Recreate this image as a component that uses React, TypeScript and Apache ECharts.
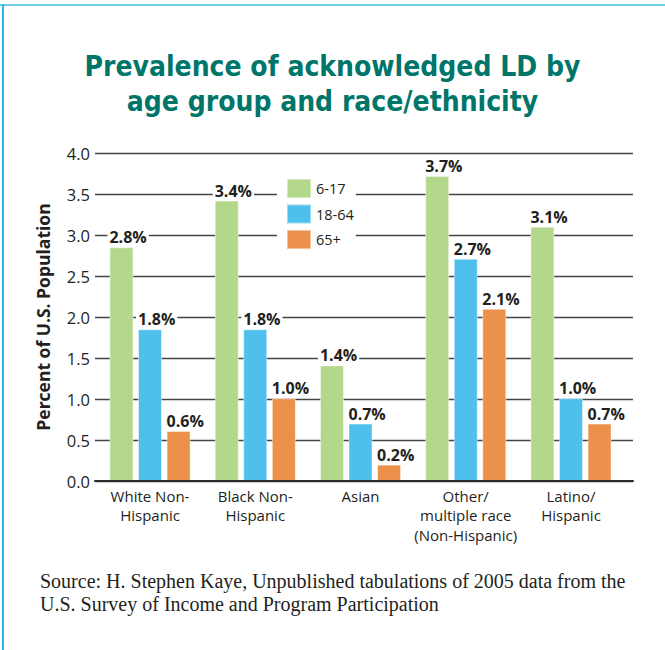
import React, { useEffect, useRef } from "react";
import * as echarts from "echarts";

const categories = [
  "White Non-\nHispanic",
  "Black Non-\nHispanic",
  "Asian",
  "Other/\nmultiple race\n(Non-Hispanic)",
  "Latino/\nHispanic",
];
const seriesNames = ["6-17", "18-64", "65+"];
const age6to17 = [2.85, 3.42, 1.41, 3.72, 3.1];
const age18to64 = [1.85, 1.85, 0.7, 2.71, 1.01];
const age65plus = [0.61, 1.01, 0.2, 2.1, 0.7];
const yTicks = [0, 0.5, 1, 1.5, 2, 2.5, 3, 3.5, 4];
const colors = ["#b3d88b", "#4fbfec", "#ec914b"];

const titleText = "Prevalence of acknowledged LD by\nage group and race/ethnicity";
const sourceText =
  "Source: H. Stephen Kaye, Unpublished tabulations of 2005 data from the\nU.S. Survey of Income and Program Participation";

const FONT = "'Open Sans', 'Noto Sans', sans-serif";

export default function App() {
  const ref = useRef<HTMLDivElement>(null);
  useEffect(() => {
    if (!ref.current) return;
    const chart = echarts.init(ref.current, undefined, { renderer: "svg" });
    const seriesData = [age6to17, age18to64, age65plus];
    const option: any = {
      animation: false,
      backgroundColor: "#ffffff",
      title: {
        text: titleText,
        left: "center",
        top: 44,
        textStyle: {
          fontFamily: "'DejaVu Sans Condensed', 'DejaVu Sans', sans-serif",
          fontWeight: "bold",
          fontSize: 28,
          lineHeight: 35,
          color: "#00756a",
        },
      },
      legend: {
        data: seriesNames,
        orient: "vertical",
        left: 277,
        top: 178,
        itemWidth: 24,
        itemHeight: 19,
        itemGap: 4.5,
        itemTextGap: 7,
        icon: "rect",
        backgroundColor: "#ffffff",
        padding: [0, 2, 0, 9],
        textStyle: { fontFamily: FONT, fontSize: 14.5, color: "#231f20" },
      },
      grid: [
        { left: 95, right: 32, top: 153, bottom: 169 },
        { left: 97.4, width: 526.2, top: 153, bottom: 169 },
      ],
      xAxis: [
        {
          type: "category",
          gridIndex: 0,
          data: categories,
          axisLine: { show: true, lineStyle: { color: "#2b2b2b", width: 2 } },
          axisTick: { show: false },
          axisLabel: { show: false },
          splitLine: { show: false },
          z: 5,
        },
        {
          type: "category",
          gridIndex: 1,
          data: categories,
          axisLine: { show: false },
          axisTick: { show: false },
          axisLabel: {
            fontFamily: FONT,
            fontSize: 15,
            lineHeight: 19.5,
            color: "#231f20",
            margin: 5,
            interval: 0,
          },
        },
      ],
      yAxis: [
        {
          type: "value",
          gridIndex: 0,
          min: yTicks[0],
          max: yTicks[yTicks.length - 1],
          interval: 0.5,
          axisLine: { show: false },
          axisTick: { show: false },
          axisLabel: {
            fontFamily: FONT,
            fontSize: 16.5,
            color: "#231f20",
            margin: 5,
            formatter: (v: number) => v.toFixed(1),
          },
          splitLine: { show: true, lineStyle: { color: "#444444", width: 1.4 } },
          name: "Percent of U.S. Population",
          nameLocation: "middle",
          nameGap: 43,
          nameTextStyle: {
            fontFamily: FONT,
            fontWeight: "bold",
            fontSize: 17.5,
            color: "#231f20",
          },
        },
        {
          type: "value",
          gridIndex: 1,
          min: yTicks[0],
          max: yTicks[yTicks.length - 1],
          interval: 0.5,
          show: false,
        },
      ],
      series: seriesNames.map((name, i) => ({
        name,
        type: "bar",
        xAxisIndex: 1,
        yAxisIndex: 1,
        data: seriesData[i],
        barWidth: 24,
        barGap: "19%",
        itemStyle: { color: colors[i], borderColor: "rgba(255,255,255,0.45)", borderWidth: 1 },
        label: {
          show: true,
          position: [-2, -2],
          align: "left",
          verticalAlign: "bottom",
          fontFamily: FONT,
          fontWeight: "bold",
          fontSize: 16,
          lineHeight: 16,
          color: "#231f20",
          backgroundColor: "#ffffff",
          padding: [0, 2, 0, 2],
          formatter: (p: any) => (Math.floor(p.value * 10 + 1e-6) / 10).toFixed(1) + "%",
        },
      })),
      graphic: [
        {
          type: "text",
          left: 40,
          top: 569,
          style: {
            text: sourceText,
            fontFamily: "'Liberation Serif', 'DejaVu Serif', serif",
            fontSize: 20,
            lineHeight: 23,
            fill: "#231f20",
          },
        },
        {
          type: "rect",
          shape: { x: 0, y: 4, width: 665, height: 2 },
          style: { fill: "#6ccbe6" },
        },
        {
          type: "rect",
          shape: { x: 2, y: 4, width: 2, height: 646 },
          style: { fill: "#2bb8ec" },
        },
      ],
    };
    chart.setOption(option);
    return () => chart.dispose();
  }, []);
  return (
    <div
      ref={ref}
      style={{ position: "absolute", left: 0, top: 0, width: 665, height: 650 }}
    />
  );
}
